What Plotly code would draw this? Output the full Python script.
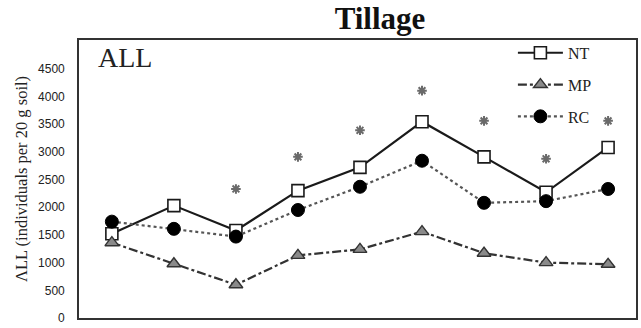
import plotly.graph_objects as go

dates = [1, 2, 3, 4, 5, 6, 7, 8, 9]
nt = [1520, 2030, 1580, 2300, 2720, 3545, 2910, 2270, 3080]
mp = [1360, 980, 600, 1130, 1240, 1560, 1170, 1000, 970]
rc = [1740, 1610, 1470, 1950, 2370, 2840, 2080, 2110, 2330]
sig_x = [3, 4, 5, 6, 7, 8, 9]
sig_y = [2330, 2910, 3390, 4105, 3560, 2875, 3560]
yticks = [0, 500, 1000, 1500, 2000, 2500, 3000, 3500, 4000, 4500]

serif = "Liberation Serif, Times New Roman, serif"

fig = go.Figure()
fig.add_trace(go.Scatter(
    x=dates, y=nt, name="NT", mode="lines+markers", legendgroup="a",
    line=dict(color="#1a1a1a", width=2.2),
    marker=dict(symbol="square", size=12, color="white", line=dict(color="#1a1a1a", width=1.6))))
fig.add_trace(go.Scatter(
    x=dates, y=mp, name="MP", mode="lines+markers", legendgroup="b",
    line=dict(color="#333333", width=2.2, dash="dashdot"),
    marker=dict(symbol="triangle-up", size=12, color="#8a8a8a", line=dict(color="#333333", width=1.4))))
fig.add_trace(go.Scatter(
    x=dates, y=rc, name="RC", mode="lines+markers", legendgroup="c",
    line=dict(color="#555555", width=2.2, dash="dot"),
    marker=dict(symbol="circle", size=13, color="black", line=dict(color="black", width=1))))
fig.add_trace(go.Scatter(
    x=sig_x, y=sig_y, mode="markers", showlegend=False,
    marker=dict(symbol="asterisk-open", size=8, color="#6a6a6a", line=dict(color="#6a6a6a", width=2))))

fig.update_layout(
    width=641, height=328,
    margin=dict(l=79, r=3, t=40, b=10),
    paper_bgcolor="white", plot_bgcolor="white",
    title=dict(text="<b>Tillage</b>", x=380/641, xanchor="center", y=1 - 18/328, yanchor="middle",
               font=dict(family=serif, size=31, color="#111")),
    legend=dict(x=0.779, y=1.015, xanchor="left", yanchor="top", bgcolor="rgba(0,0,0,0)",
                font=dict(family=serif, size=16, color="#222"), itemwidth=45, tracegroupgap=8),
    annotations=[dict(text="ALL", x=0.03, y=1.0, xref="paper", yref="paper", xanchor="left",
                      yanchor="top", showarrow=False, font=dict(family=serif, size=28, color="#222"))],
    showlegend=True,
)
fig.update_xaxes(range=[0.47, 9.45], showticklabels=False, ticks="", showgrid=False, zeroline=False,
                 showline=True, linecolor="#333", linewidth=1.6, mirror=True)
fig.update_yaxes(range=[0, 5020], tickvals=yticks, ticktext=[str(v) for v in yticks],
                 showgrid=False, zeroline=False, showline=True, linecolor="#333", linewidth=1.6, mirror=True,
                 ticks="", ticklabelstandoff=10,
                 tickfont=dict(family="Liberation Sans, Arial, sans-serif", size=12, color="#222"),
                 title=dict(text="ΛLL (individuals per 20 g soil)", standoff=6,
                            font=dict(family=serif, size=16.5, color="#222")))

fig.write_html("out.html")
